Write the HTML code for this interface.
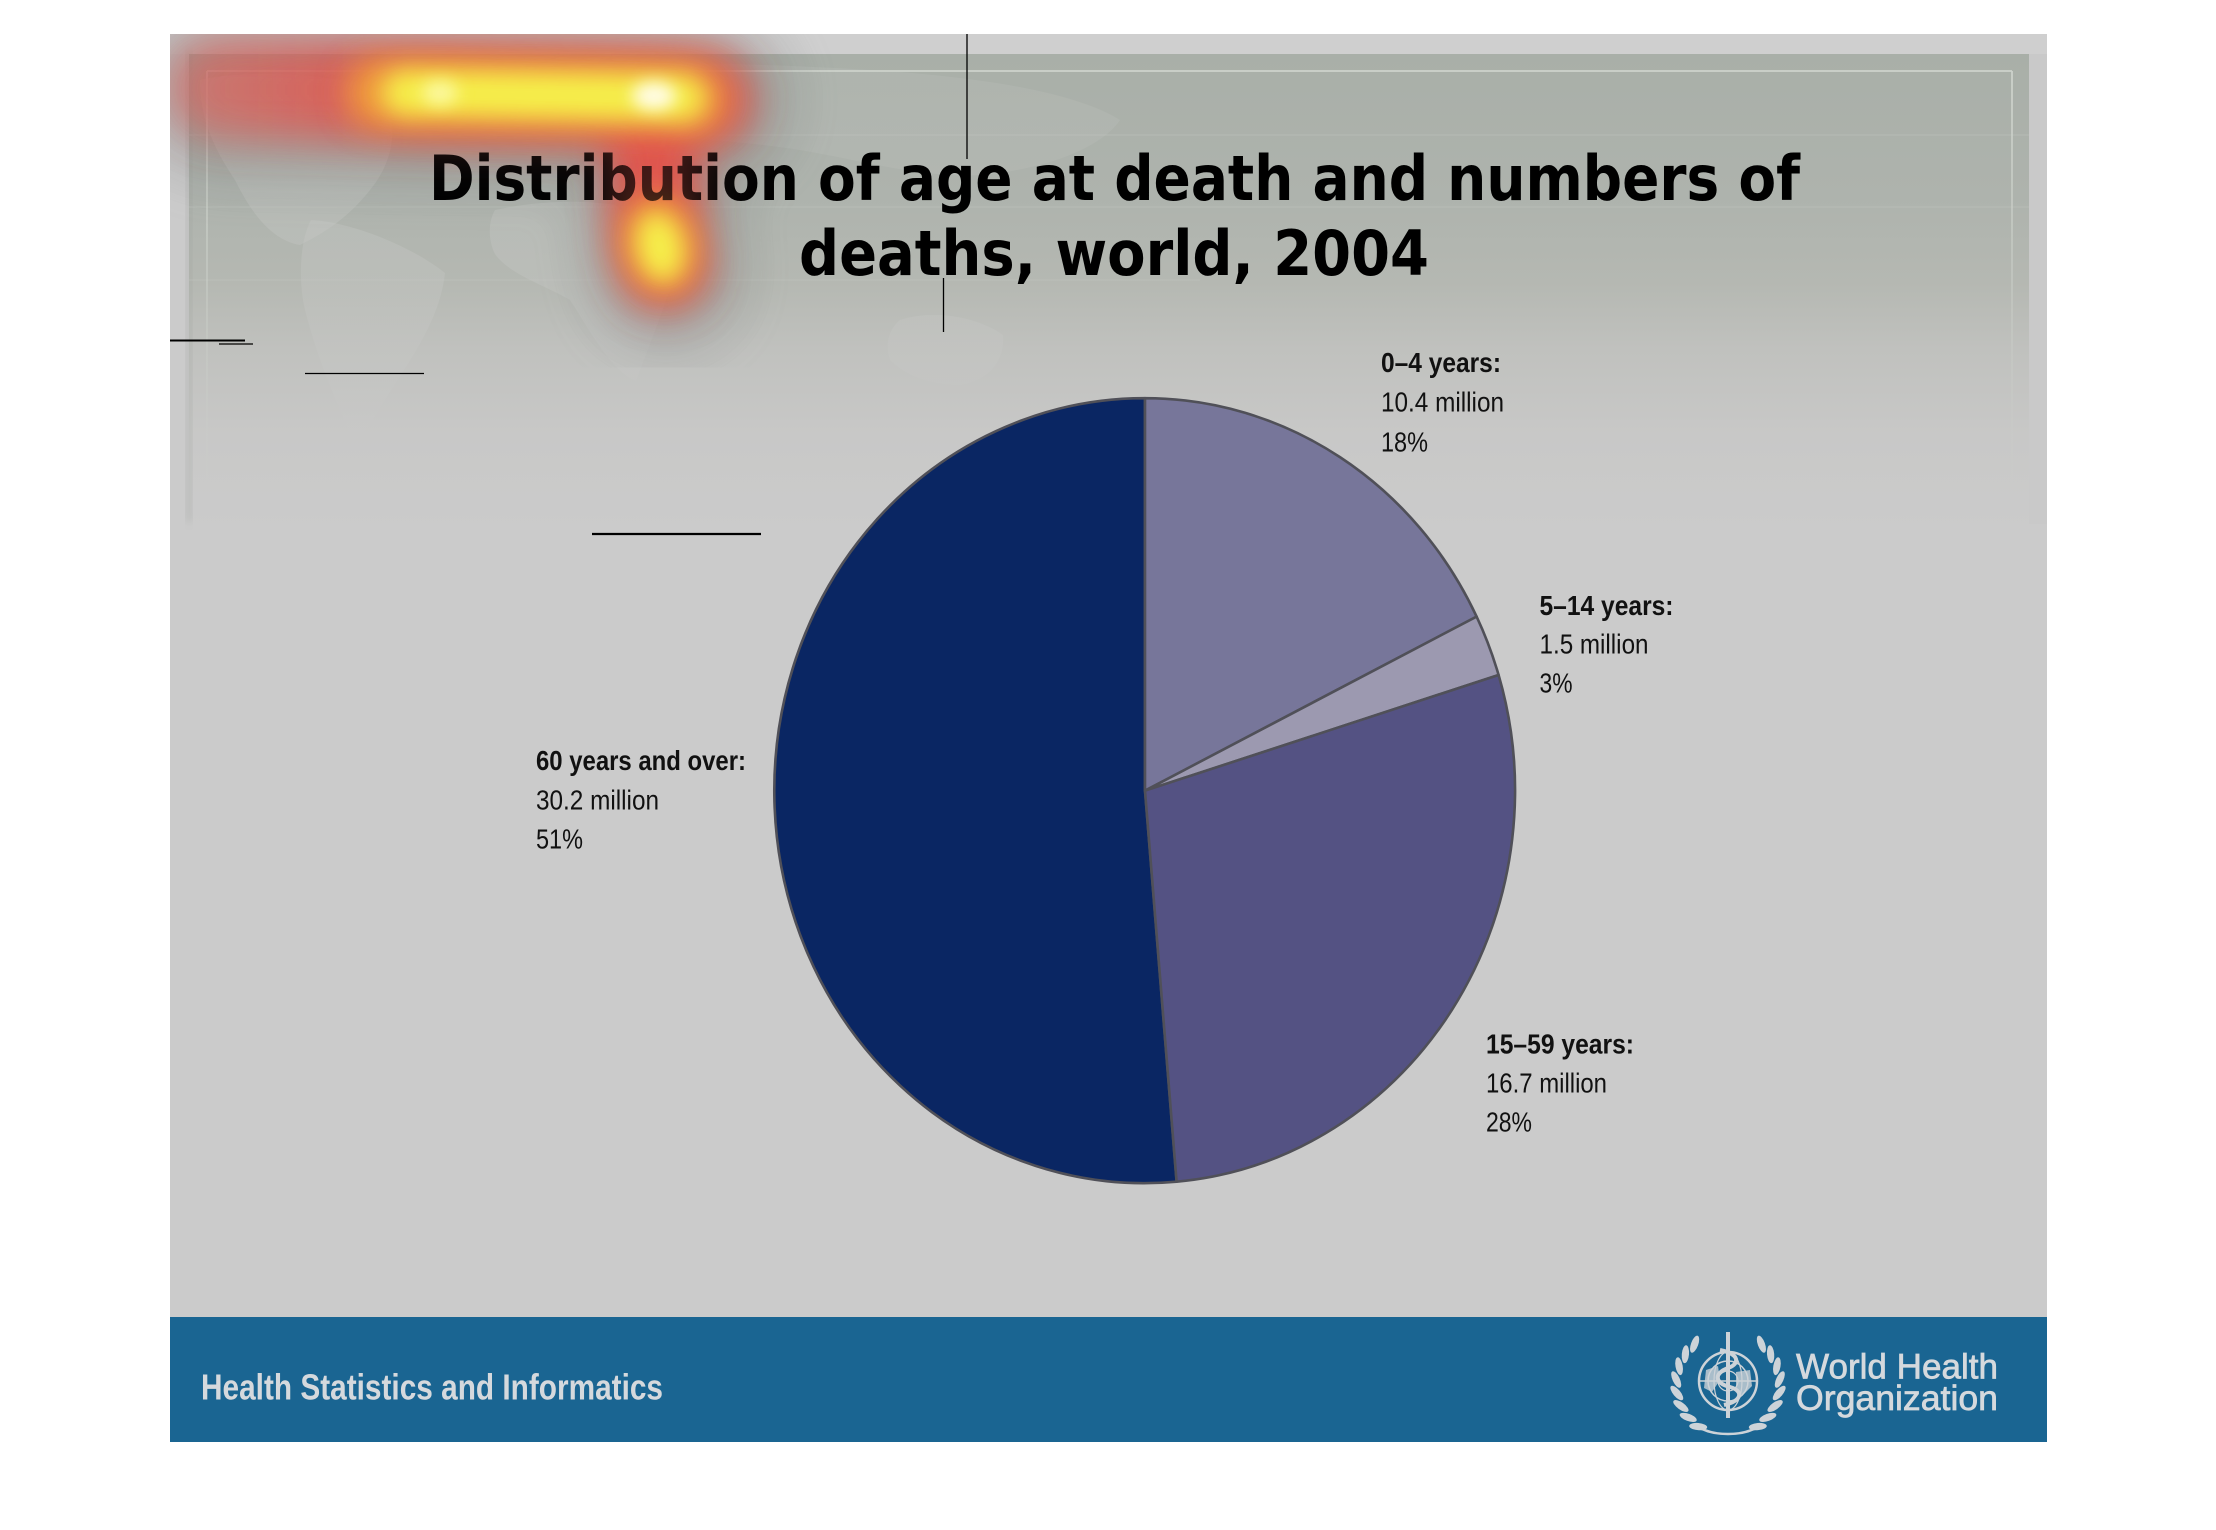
<!DOCTYPE html>
<html>
<head>
<meta charset="utf-8">
<style>
  html,body{margin:0;padding:0;background:#ffffff;}
  svg{display:block;}
</style>
</head>
<body>
<svg xmlns="http://www.w3.org/2000/svg" width="2216" height="1530" viewBox="0 0 2216 1530">
  <defs>
    <linearGradient id="panel" x1="0" y1="54" x2="0" y2="530" gradientUnits="userSpaceOnUse">
      <stop offset="0" stop-color="#a9afa8"/>
      <stop offset="0.3" stop-color="#aeb3ad"/>
      <stop offset="0.48" stop-color="#b5b8b2"/>
      <stop offset="0.62" stop-color="#c0c1be"/>
      <stop offset="0.8" stop-color="#c8c8c7"/>
      <stop offset="1" stop-color="#cbcbcb"/>
    </linearGradient>
    <linearGradient id="lineFade" x1="0" y1="71" x2="0" y2="500" gradientUnits="userSpaceOnUse">
      <stop offset="0" stop-color="#cdd2cb" stop-opacity="0.9"/>
      <stop offset="1" stop-color="#cdd2cb" stop-opacity="0"/>
    </linearGradient>
    <linearGradient id="landFade" x1="0" y1="60" x2="0" y2="480" gradientUnits="userSpaceOnUse">
      <stop offset="0" stop-color="#c4c7c3" stop-opacity="0.4"/>
      <stop offset="0.7" stop-color="#c6c7c5" stop-opacity="0.35"/>
      <stop offset="1" stop-color="#cbcbcb" stop-opacity="0"/>
    </linearGradient>
    <linearGradient id="redTail" x1="200" y1="0" x2="420" y2="0" gradientUnits="userSpaceOnUse">
      <stop offset="0" stop-color="#e0625a" stop-opacity="0.6"/>
      <stop offset="1" stop-color="#e0564f" stop-opacity="1"/>
    </linearGradient>
    <clipPath id="slideClip"><rect x="170" y="34" width="1877" height="1284"/></clipPath>
    <filter id="bHalo" x="-50%" y="-50%" width="200%" height="200%"><feGaussianBlur stdDeviation="28"/></filter>
    <filter id="bRed" x="-50%" y="-50%" width="200%" height="200%"><feGaussianBlur stdDeviation="20"/></filter>
    <filter id="bOr" x="-50%" y="-50%" width="200%" height="200%"><feGaussianBlur stdDeviation="15"/></filter>
    <filter id="bYe" x="-50%" y="-50%" width="200%" height="200%"><feGaussianBlur stdDeviation="12"/></filter>
    <filter id="bCore" x="-100%" y="-100%" width="300%" height="300%"><feGaussianBlur stdDeviation="8"/></filter>
    <filter id="bShadow" x="-10%" y="-10%" width="120%" height="120%"><feGaussianBlur stdDeviation="4"/></filter>

    <g id="heat">
      <g filter="url(#bHalo)" opacity="0.28" stroke="#6e6e6e" fill="none" stroke-linecap="round" stroke-linejoin="round">
        <path d="M215,90 L440,94 L654,96 L705,100" stroke-width="160"/>
        <path d="M652,115 L660,250 L666,275" stroke-width="140"/>
      </g>
      <g filter="url(#bRed)" fill="none" stroke-linecap="round" stroke-linejoin="round">
        <path d="M218,88 L440,93 L654,96 L702,100" stroke="url(#redTail)" stroke-width="96"/>
        <path d="M650,118 L657,240 L664,264" stroke="#e0564f" stroke-width="86"/>
      </g>
      <g filter="url(#bOr)" fill="#f09d3c" stroke="#f09d3c" stroke-linecap="round" stroke-linejoin="round">
        <path d="M380,93 L440,93 L654,97 L692,99" fill="none" stroke-width="66"/>
        <ellipse cx="660" cy="244" rx="36" ry="48" stroke="none" transform="rotate(-12 660 244)"/>
      </g>
      <g filter="url(#bYe)" fill="#f6f04c" stroke="#f6f04c" stroke-linecap="round" stroke-linejoin="round">
        <path d="M405,93 L540,95 L654,97 L682,98" fill="none" stroke-width="44"/>
        <ellipse cx="660" cy="247" rx="22" ry="34" stroke="none" transform="rotate(-12 660 247)"/>
      </g>
      <g filter="url(#bCore)">
        <ellipse cx="654" cy="96" rx="22" ry="14" fill="#fffce8"/>
        <ellipse cx="440" cy="93" rx="18" ry="12" fill="#fbf8a0"/>
      </g>
    </g>
  </defs>

  <!-- page background -->
  <rect x="0" y="0" width="2216" height="1530" fill="#ffffff"/>

  <!-- slide -->
  <rect x="170" y="34" width="1877" height="1284" fill="#cbcbcb"/>
  <rect x="170" y="34" width="1877" height="20" fill="#cfcfcf"/>
  <rect x="189" y="54" width="1840" height="476" fill="url(#panel)"/>
  <rect x="186" y="52" width="6" height="470" fill="#9a9e99" opacity="0.35" filter="url(#bShadow)"/>

  <!-- faint world map land masses -->
  <g fill="url(#landFade)">
    <path d="M200,80 C240,70 330,72 380,90 C400,120 395,160 370,190 C350,215 330,230 300,245 C270,240 250,210 235,180 C215,150 200,120 200,80 Z"/>
    <path d="M311,220 C350,222 410,245 445,273 C440,320 410,360 385,400 C370,425 360,440 353,439 C335,400 318,360 305,310 C298,280 300,240 311,220 Z"/>
    <path d="M495,210 C540,200 585,200 615,205 C640,225 665,240 678,254 C672,290 655,330 636,381 C610,370 590,330 570,300 C545,285 510,275 495,254 C488,240 488,222 495,210 Z"/>
    <path d="M900,320 C930,310 975,315 1003,335 C1005,360 990,380 960,385 C930,385 905,375 890,360 C885,345 888,330 900,320 Z"/>
    <path d="M520,70 C600,60 760,62 900,72 C1000,80 1080,95 1120,120 C1100,150 1040,170 980,175 C920,178 860,160 800,150 C740,140 680,140 620,130 C560,120 520,100 520,70 Z" opacity="0.5"/>
  </g>
  <g stroke="#c4c8c2" stroke-width="1" opacity="0.45">
    <line x1="189" y1="135" x2="2029" y2="135"/>
    <line x1="189" y1="207" x2="2029" y2="207"/>
    <line x1="189" y1="280" x2="1200" y2="280"/>
  </g>

  <!-- inner light frame line -->
  <line x1="207" y1="71" x2="2012" y2="71" stroke="#c9cec7" stroke-width="2"/>
  <line x1="207" y1="71" x2="207" y2="500" stroke="url(#lineFade)" stroke-width="2"/>
  <line x1="2012" y1="71" x2="2012" y2="500" stroke="url(#lineFade)" stroke-width="2"/>
  <rect x="2029" y="54" width="18" height="470" fill="#c9c9c9"/>

  <!-- heatmap underlay -->
  <g clip-path="url(#slideClip)"><use href="#heat"/></g>

  <!-- title -->
  <g font-family="'DejaVu Sans', Verdana, 'Liberation Sans', sans-serif" font-weight="bold" font-size="62" fill="#000000">
    <text x="429" y="200" textLength="1371" lengthAdjust="spacingAndGlyphs">Distribution of age at death and numbers of</text>
    <text x="799" y="275" textLength="630" lengthAdjust="spacingAndGlyphs">deaths, world, 2004</text>
  </g>

  <!-- heatmap overlay (tints text) -->
  <g clip-path="url(#slideClip)" opacity="0.3"><use href="#heat"/></g>

  <!-- stray black lines -->
  <g stroke="#000000" fill="none">
    <line x1="967" y1="34" x2="967" y2="159" stroke-width="1.3"/>
    <line x1="943.5" y1="278" x2="943.5" y2="332" stroke-width="1.3"/>
    <line x1="170" y1="340.5" x2="245" y2="340.5" stroke-width="2"/>
    <line x1="219" y1="344" x2="253" y2="344" stroke-width="1.2"/>
    <line x1="305" y1="373.5" x2="424" y2="373.5" stroke-width="1.3"/>
    <line x1="592" y1="534" x2="761" y2="534" stroke-width="2.2"/>
  </g>

  <!-- pie -->
  <g stroke="#505058" stroke-width="2.6" stroke-linejoin="round">
    <path d="M1145,790.7 L1176.6,1181.7 A370,392.5 0 1 1 1145,398.2 Z" fill="#0a2663"/>
    <path d="M1145,790.7 L1145,398.2 A370,392.5 0 0 1 1476.6,616.6 Z" fill="#77769a"/>
    <path d="M1145,790.7 L1476.6,616.6 A370,392.5 0 0 1 1498.6,675.0 Z" fill="#9c99b0"/>
    <path d="M1145,790.7 L1498.6,675.0 A370,392.5 0 0 1 1176.6,1181.7 Z" fill="#545283"/>
  </g>

  <!-- pie labels -->
  <g font-family="'Liberation Sans', Arial, sans-serif" font-size="28" fill="#111111">
    <text x="1381" y="372" font-weight="bold" textLength="120" lengthAdjust="spacingAndGlyphs">0–4 years:</text>
    <text x="1381" y="411.7" textLength="123" lengthAdjust="spacingAndGlyphs">10.4 million</text>
    <text x="1381" y="451.7" textLength="47" lengthAdjust="spacingAndGlyphs">18%</text>

    <text x="1539.5" y="615" font-weight="bold" textLength="134" lengthAdjust="spacingAndGlyphs">5–14 years:</text>
    <text x="1539.5" y="653.3" textLength="109" lengthAdjust="spacingAndGlyphs">1.5 million</text>
    <text x="1539.5" y="692.7" textLength="33" lengthAdjust="spacingAndGlyphs">3%</text>

    <text x="536" y="770" font-weight="bold" textLength="210" lengthAdjust="spacingAndGlyphs">60 years and over:</text>
    <text x="536" y="809.3" textLength="123" lengthAdjust="spacingAndGlyphs">30.2 million</text>
    <text x="536" y="848.3" textLength="47" lengthAdjust="spacingAndGlyphs">51%</text>

    <text x="1486" y="1053.5" font-weight="bold" textLength="148" lengthAdjust="spacingAndGlyphs">15–59 years:</text>
    <text x="1486" y="1092.7" textLength="121" lengthAdjust="spacingAndGlyphs">16.7 million</text>
    <text x="1486" y="1131.7" textLength="46" lengthAdjust="spacingAndGlyphs">28%</text>
  </g>

  <!-- footer -->
  <rect x="170" y="1317" width="1877" height="125" fill="#1a6592"/>
  <text x="201" y="1399.3" font-family="'Liberation Sans', Arial, sans-serif" font-weight="bold" font-size="36" fill="#d5d9dd" textLength="462" lengthAdjust="spacingAndGlyphs">Health Statistics and Informatics</text>

  <!-- WHO logo -->
  <g stroke="#cdd3d8" fill="none">
    <circle cx="1728" cy="1381" r="29" stroke-width="2.5"/>
    <circle cx="1728" cy="1381" r="20" stroke-width="1.5"/>
    <circle cx="1728" cy="1381" r="10" stroke-width="1.2"/>
    <line x1="1699" y1="1381" x2="1757" y2="1381" stroke-width="1.5"/>
    <ellipse cx="1728" cy="1381" rx="14" ry="29" stroke-width="1.2"/>
    <line x1="1728" y1="1332" x2="1728" y2="1418" stroke-width="4"/>
    <path d="M1720,1350 C1740,1354 1740,1364 1728,1368 C1714,1373 1714,1383 1730,1387 C1744,1391 1742,1401 1724,1405" stroke-width="4"/>
    <path d="M1700,1428 C1715,1436 1741,1436 1756,1428" stroke-width="2.5"/>
  </g>
  <g fill="#cdd3d8">
    <path d="M1706,1370 L1718,1366 L1720,1380 L1712,1392 L1704,1388 Z" opacity="0.8"/>
    <path d="M1736,1372 L1750,1370 L1752,1386 L1742,1396 L1736,1388 Z" opacity="0.8"/>
    <g>
      <ellipse cx="1698.2" cy="1426.6" rx="9" ry="3.6" transform="rotate(185 1698.2 1426.6)"/>
      <ellipse cx="1688.2" cy="1417.4" rx="9" ry="3.6" transform="rotate(200 1688.2 1417.4)"/>
      <ellipse cx="1680.9" cy="1406.0" rx="9" ry="3.6" transform="rotate(215 1680.9 1406.0)"/>
      <ellipse cx="1676.8" cy="1393.0" rx="9" ry="3.6" transform="rotate(230 1676.8 1393.0)"/>
      <ellipse cx="1676.2" cy="1379.5" rx="9" ry="3.6" transform="rotate(245 1676.2 1379.5)"/>
      <ellipse cx="1679.1" cy="1366.2" rx="9" ry="3.6" transform="rotate(260 1679.1 1366.2)"/>
      <ellipse cx="1685.4" cy="1354.2" rx="9" ry="3.6" transform="rotate(275 1685.4 1354.2)"/>
      <ellipse cx="1694.6" cy="1344.2" rx="9" ry="3.6" transform="rotate(290 1694.6 1344.2)"/>
      <ellipse cx="1757.8" cy="1426.6" rx="9" ry="3.6" transform="rotate(-185 1757.8 1426.6)"/>
      <ellipse cx="1767.8" cy="1417.4" rx="9" ry="3.6" transform="rotate(-200 1767.8 1417.4)"/>
      <ellipse cx="1775.1" cy="1406.0" rx="9" ry="3.6" transform="rotate(-215 1775.1 1406.0)"/>
      <ellipse cx="1779.2" cy="1393.0" rx="9" ry="3.6" transform="rotate(-230 1779.2 1393.0)"/>
      <ellipse cx="1779.8" cy="1379.5" rx="9" ry="3.6" transform="rotate(-245 1779.8 1379.5)"/>
      <ellipse cx="1776.9" cy="1366.2" rx="9" ry="3.6" transform="rotate(-260 1776.9 1366.2)"/>
      <ellipse cx="1770.6" cy="1354.2" rx="9" ry="3.6" transform="rotate(-275 1770.6 1354.2)"/>
      <ellipse cx="1761.4" cy="1344.2" rx="9" ry="3.6" transform="rotate(-290 1761.4 1344.2)"/>
    </g>
  </g>
  <g font-family="'Liberation Sans', Arial, sans-serif" font-size="35" fill="#d5d9dd" stroke="#d5d9dd" stroke-width="0.7">
    <text x="1796" y="1378.3" textLength="202" lengthAdjust="spacingAndGlyphs">World Health</text>
    <text x="1796" y="1410" textLength="202" lengthAdjust="spacingAndGlyphs">Organization</text>
  </g>
</svg>
</body>
</html>
